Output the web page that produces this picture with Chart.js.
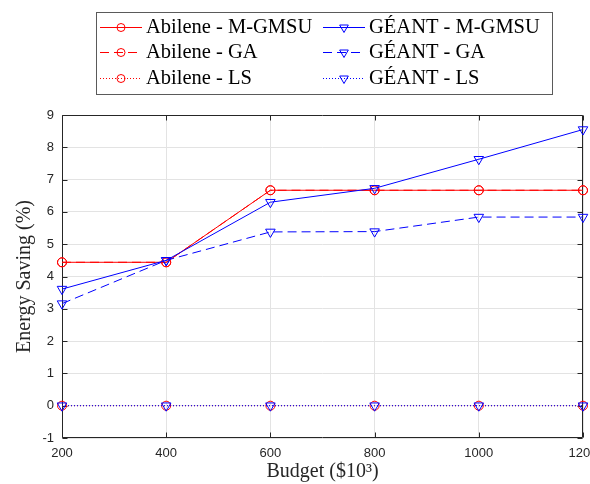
<!DOCTYPE html>
<html>
<head>
<meta charset="utf-8">
<script src="https://cdn.jsdelivr.net/npm/chart.js@4.4.0/dist/chart.umd.min.js"></script>
<style>
  html, body { margin: 0; padding: 0; background: #fff; }
  #wrap { width: 590px; height: 484px; }
</style>
</head>
<body>
<div id="wrap"><canvas id="c" width="590" height="484"></canvas></div>
<script>
// ---- data ----
const budgets = [200, 400, 600, 800, 1000, 1200];
const abileneMGMSU = [4.44, 4.44, 6.67, 6.67, 6.67, 6.67];
const abileneGA    = [4.44, 4.44, 6.67, 6.67, 6.67, 6.67];
const abileneLS    = [0, 0, 0, 0, 0, 0];
const geantMGMSU   = [3.61, 4.5, 6.3, 6.73, 7.63, 8.55];
const geantGA      = [3.16, 4.5, 5.38, 5.39, 5.84, 5.84];
const geantLS      = [0, 0, 0, 0, 0, 0];
const seriesLabels = ['Abilene - M-GMSU', 'Abilene - GA', 'Abilene - LS',
                      'GÉANT - M-GMSU', 'GÉANT - GA', 'GÉANT - LS'];
const xTitle = 'Budget ($10³)';
const yTitle = 'Energy Saving (%)';

const toXY = vals => budgets.map((b, i) => ({ x: b, y: vals[i] }));
const RED = '#ff0000', BLUE = '#0000ff';
const DASH = [9, 5], DOT = [1, 2];

function mk(label, vals, color, dash, isTri, idx) {
  return {
    label, data: toXY(vals),
    borderColor: color, borderWidth: 1, borderDash: dash,
    pointStyle: isTri ? 'triangle' : 'circle',
    rotation: isTri ? 180 : 0,
    pointRadius: isTri ? 5.5 : 4.5,
    pointBorderColor: color, pointBackgroundColor: 'rgba(0,0,0,0)',
    pointBorderWidth: 1, pointHoverRadius: 5,
    tension: 0, fill: false, clip: false, order: 5 - idx
  };
}
const datasets = [
  mk(seriesLabels[0], abileneMGMSU, RED, [], false, 0),
  mk(seriesLabels[1], abileneGA, RED, DASH, false, 1),
  mk(seriesLabels[2], abileneLS, RED, DOT, false, 2),
  mk(seriesLabels[3], geantMGMSU, BLUE, [], true, 3),
  mk(seriesLabels[4], geantGA, BLUE, DASH, true, 4),
  mk(seriesLabels[5], geantLS, BLUE, DOT, true, 5)
];

const AX = '#262626';
const boxPlugin = {
  id: 'mlBox',
  beforeDatasetsDraw(chart) {
    const { ctx, chartArea: a, scales: { x, y } } = chart;
    const L = Math.round(a.left) + 0.5, R = Math.round(a.right) - 0.5;
    const T = Math.round(a.top) + 0.5, B = Math.round(a.bottom) - 0.5;
    ctx.save();
    ctx.strokeStyle = AX; ctx.lineWidth = 1;
    ctx.beginPath();
    ctx.rect(L, T, R - L, B - T);
    const t = 5;
    x.ticks.forEach(tk => {
      const px = Math.round(x.getPixelForValue(tk.value)) + 0.5;
      ctx.moveTo(px, B); ctx.lineTo(px, B - t);
      ctx.moveTo(px, T); ctx.lineTo(px, T + t);
    });
    y.ticks.forEach(tk => {
      const py = Math.round(y.getPixelForValue(tk.value)) + 0.5;
      ctx.moveTo(L, py); ctx.lineTo(L + t, py);
      ctx.moveTo(R, py); ctx.lineTo(R - t, py);
    });
    ctx.stroke();
    ctx.restore();
  }
};

const legendPlugin = {
  id: 'mlLegend',
  afterDraw(chart) {
    const ctx = chart.ctx;
    ctx.save();
    ctx.fillStyle = '#fff';
    ctx.fillRect(96, 12, 456, 82);
    ctx.strokeStyle = '#5a5a5a'; ctx.lineWidth = 1;
    ctx.strokeRect(96.5, 12.5, 456, 82);
    chart.data.datasets.forEach((ds, i) => {
      const col = Math.floor(i / 3), row = i % 3;
      const x0 = col === 0 ? 100 : 323;
      const cy = Math.round(27 + row * 25.3) + 0.5;
      ctx.save();
      ctx.strokeStyle = ds.borderColor; ctx.lineWidth = 1;
      ctx.setLineDash(ds.borderDash || []);
      ctx.beginPath(); ctx.moveTo(x0, cy); ctx.lineTo(x0 + 42, cy); ctx.stroke();
      ctx.setLineDash([]);
      ctx.strokeStyle = ds.pointBorderColor; ctx.fillStyle = 'rgba(0,0,0,0)';
      Chart.helpers.drawPoint(ctx, {
        pointStyle: ds.pointStyle, rotation: ds.rotation,
        radius: ds.pointStyle === 'triangle' ? 5 : 4, borderWidth: 1
      }, x0 + 21, cy);
      ctx.restore();
      ctx.fillStyle = '#000';
      ctx.font = '20.5px "Liberation Serif"';
      ctx.textBaseline = 'alphabetic'; ctx.textAlign = 'left';
      ctx.fillText(ds.label, x0 + 46, cy + 5.5);
    });
    ctx.restore();
  }
};

new Chart(document.getElementById('c'), {
  type: 'line',
  data: { datasets },
  options: {
    responsive: false, animation: false, devicePixelRatio: 1,
    layout: { padding: { top: 115, right: 7, left: 0, bottom: 0 } },
    plugins: { legend: { display: false }, tooltip: { enabled: false } },
    scales: {
      x: {
        type: 'linear', min: 200, max: 1200,
        ticks: { stepSize: 200, color: AX, padding: 8,
                 callback: v => String(v),
                 font: { family: '"Liberation Sans"', size: 13 } },
        grid: { color: '#e3e3e3', drawTicks: false },
        border: { display: false },
        title: { display: true, text: xTitle, color: '#262626',
                 font: { family: '"Liberation Serif"', size: 20 },
                 padding: { top: 0, bottom: 0 } },
        afterFit(s) { s.height = 46; s.paddingLeft = 0; s.paddingRight = 0; }
      },
      y: {
        min: -1, max: 9,
        ticks: { stepSize: 1, color: AX, padding: 8,
                 callback: v => String(v),
                 font: { family: '"Liberation Sans"', size: 13 } },
        grid: { color: '#e3e3e3', drawTicks: false },
        border: { display: false },
        title: { display: true, text: yTitle, color: '#262626',
                 font: { family: '"Liberation Serif"', size: 20 },
                 padding: { top: 13, bottom: 0 } },
        afterFit(s) { s.width = 62; s.paddingTop = 0; s.paddingBottom = 0; }
      }
    }
  },
  plugins: [boxPlugin, legendPlugin]
});
</script>
</body>
</html>
